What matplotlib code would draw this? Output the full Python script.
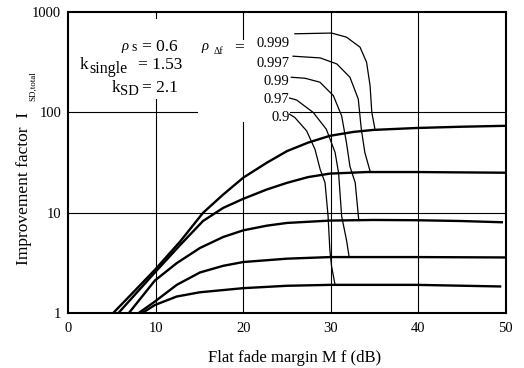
import matplotlib
matplotlib.use("Agg")
import matplotlib.pyplot as plt
import numpy as np

plt.rcParams['font.family'] = ['Liberation Serif', 'DejaVu Serif']
plt.rcParams['mathtext.fontset'] = 'custom'
plt.rcParams['mathtext.rm'] = 'Liberation Serif'
plt.rcParams['mathtext.it'] = 'Liberation Serif:italic'

# improvement factor curves, one per rho_delta_f
rho_labels = ["0.999", "0.997", "0.99", "0.97", "0.9"]

m_999 = [5.1, 7.4, 9.9, 12.8, 15.4, 17.7, 20.0, 22.7, 25.0, 27.4, 29.9, 32.6, 34.9, 39.8, 44.8, 50.0]
i_999 = [1.0, 1.61, 2.71, 5.2, 10.0, 15.2, 22.4, 31.6, 41.2, 50.0, 58.5, 64.0, 67.0, 70.0, 72.0, 73.6]

m_997 = [5.7, 9.9, 12.8, 15.4, 17.7, 20.0, 22.7, 25.0, 27.4, 29.9, 34.1, 39.8, 50.0]
i_997 = [1.0, 2.55, 4.8, 8.3, 11.2, 13.8, 17.1, 19.9, 22.7, 24.6, 25.5, 25.5, 25.1]

m_99 = [6.9, 9.9, 12.4, 15.05, 17.7, 20.0, 22.7, 25.0, 29.9, 34.9, 39.8, 44.8, 49.7]
i_99 = [1.0, 2.12, 3.16, 4.47, 5.75, 6.7, 7.46, 7.94, 8.38, 8.5, 8.45, 8.3, 8.06]

m_97 = [8.0, 9.9, 12.4, 15.05, 17.7, 20.0, 25.0, 29.9, 39.8, 50.0]
i_97 = [1.0, 1.31, 1.92, 2.55, 2.97, 3.24, 3.5, 3.63, 3.63, 3.6]

m_9 = [8.4, 9.9, 12.4, 15.05, 20.0, 25.0, 29.9, 39.8, 49.5]
i_9 = [1.0, 1.21, 1.47, 1.62, 1.78, 1.88, 1.92, 1.92, 1.85]

# thin leader lines from label to the cut-off point of each curve
lx_999 = [25.9, 30.1, 31.8, 33.35, 34.1, 34.5, 34.7, 35.06]
ly_999 = [607, 617, 562, 447, 316, 185, 100, 68]
lx_997 = [25.7, 28.8, 30.7, 32.2, 33.15, 33.5, 33.9, 34.5]
ly_997 = [363, 349, 304, 224, 136, 68, 40, 26]
lx_99 = [25.5, 27.06, 28.77, 30.3, 31.25, 31.8, 32.2, 32.8, 33.2]
ly_99 = [224, 219, 200, 147, 92.5, 50, 29, 20, 8.6]
lx_97 = [25.3, 26.1, 28.0, 29.5, 30.5, 30.9, 31.25, 31.8, 32.1]
ly_97 = [139, 133, 100, 68, 40, 25, 9.25, 5.4, 3.68]
lx_9 = [25.3, 25.9, 27.25, 28.2, 28.8, 29.35, 29.7, 29.9, 30.1, 30.5]
ly_9 = [96, 89, 65.5, 43, 27, 20, 9.25, 4.3, 2.93, 1.92]

label_y = [490, 310, 205, 135, 89]

x_ticks = [0, 10, 20, 30, 40, 50]
y_ticks = [1, 10, 100, 1000]

fig = plt.figure(figsize=(5.24, 3.68), dpi=100)
ax = fig.add_axes([0.1303, 0.1486, 0.8347, 0.8188])
ax.set_yscale('log')
ax.set_xlim(0, 50)
ax.set_ylim(1, 1000)

# grid (with the gaps of the original behind the annotations)
gk = dict(color='black', lw=0.8, zorder=1)
ax.plot([10, 10], [1, 136], **gk)
ax.plot([10, 10], [880, 1000], **gk)
ax.plot([20, 20], [1, 80], **gk)
ax.plot([20, 20], [541, 1000], **gk)
for gx in [30, 40]:
    ax.plot([gx, gx], [1, 1000], **gk)
ax.plot([0, 50], [10, 10], **gk)
ax.plot([0, 14.7], [100, 100], **gk)
ax.plot([25.3, 50], [100, 100], **gk)

for mx, iy in [(m_999, i_999), (m_997, i_997), (m_99, i_99), (m_97, i_97), (m_9, i_9)]:
    ax.plot(mx, iy, color='black', lw=1.7, zorder=3, solid_capstyle='butt')

for lx, ly in [(lx_999, ly_999), (lx_997, ly_997), (lx_99, ly_99), (lx_97, ly_97), (lx_9, ly_9)]:
    ax.plot(lx, ly, color='black', lw=0.9, zorder=2)

for lab, yy in zip(rho_labels, label_y):
    ax.text(25.3, yy, lab, ha='right', va='center', fontsize=10.5)

# parameter annotations
fs = 12.5
ax.text(6.0, 440, r'$\it{\rho}$', fontsize=10.5, va='center', ha='left')
ax.text(7.2, 445, 's', fontsize=10, va='center', ha='left')
ax.text(8.4, 450, '= 0.6', fontsize=fs, va='center', ha='left')
ax.text(15.2, 440, r'$\it{\rho}$', fontsize=10.5, va='center', ha='left')
ax.text(16.6, 405, 'Δf', fontsize=7, va='center', ha='left')
ax.text(19.0, 450, '=', fontsize=fs, va='center', ha='left')
ax.text(1.25, 295, 'k', fontsize=fs, va='center', ha='left')
ax.text(2.4, 271, 'single', fontsize=11.5, va='center', ha='left')
ax.text(8.0, 295, '= 1.53', fontsize=fs, va='center', ha='left')
ax.text(4.95, 175, 'k', fontsize=fs, va='center', ha='left')
ax.text(5.9, 162, 'SD', fontsize=10.5, va='center', ha='left')
ax.text(8.4, 175, '= 2.1', fontsize=fs, va='center', ha='left')

ax.set_xticks(x_ticks)
ax.set_xticklabels([str(t) for t in x_ticks])
ax.set_yticks(y_ticks)
ax.set_yticklabels([str(t) for t in y_ticks])
ax.minorticks_off()
ax.tick_params(length=0, labelsize=10.5)
ax.tick_params(axis='x', pad=6)
ax.tick_params(axis='y', pad=5)
for s in ax.spines.values():
    s.set_linewidth(1.5)

fig.text(0.563, 0.027, 'Flat fade margin M f (dB)', ha='center', va='center', fontsize=12)
fig.text(0.045, 0.489, 'Improvement factor  I', rotation=90, ha='center', va='center', fontsize=12.5)
fig.text(0.063, 0.766, 'SD,total', rotation=90, ha='center', va='center', fontsize=6.5)

fig.savefig('out.png', dpi=100)
